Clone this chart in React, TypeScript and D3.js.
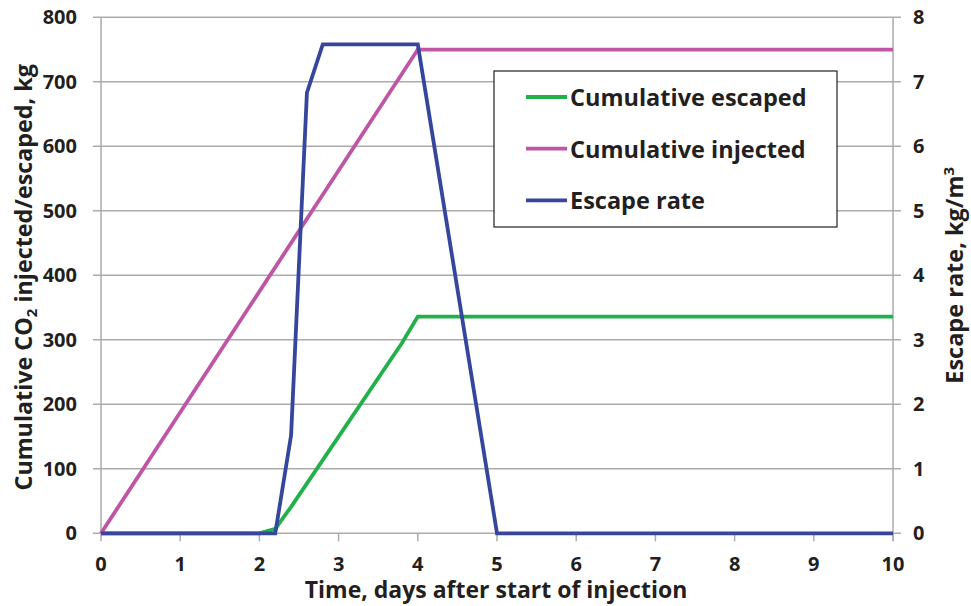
import React, { useEffect, useRef } from 'react';
import * as d3 from 'd3';

// time in days after start of injection
const injectedDays = [0, 4, 10];
const injectedKg = [0, 750, 750];

const escapedDays = [0, 2, 2.2, 2.4, 3.8, 4, 10];
const escapedKg = [0, 0, 7, 41, 295, 336, 336];

const rateDays = [0, 2.2, 2.4, 2.6, 2.8, 4, 5, 10];
const rateValues = [0, 0, 1.52, 6.83, 7.58, 7.58, 0, 0];

const xTicks = [0, 1, 2, 3, 4, 5, 6, 7, 8, 9, 10];
const leftTicks = [0, 100, 200, 300, 400, 500, 600, 700, 800];
const rightTicks = [0, 1, 2, 3, 4, 5, 6, 7, 8];

const legendItems = [
  { label: 'Cumulative escaped', color: '#22b04b' },
  { label: 'Cumulative injected', color: '#bf56a5' },
  { label: 'Escape rate', color: '#35469c' },
];

const FONT = '"Open Sans", Lato, sans-serif';
const TEXT = '#231f20';
const GRID = '#ababab';

const App: React.FC = () => {
  const svgRef = useRef<SVGSVGElement>(null);
  const width = 971;
  const height = 606;

  useEffect(() => {
    if (!svgRef.current) return;
    const svg = d3.select(svgRef.current);
    svg.selectAll('*').remove();

    const margin = { top: 17.3, right: 78, bottom: 72.7, left: 101 };
    const innerWidth = width - margin.left - margin.right;
    const innerHeight = height - margin.top - margin.bottom;

    const x = d3.scaleLinear().domain([0, 10]).range([0, innerWidth]);
    const yLeft = d3.scaleLinear().domain([0, 800]).range([innerHeight, 0]);
    const yRight = d3.scaleLinear().domain([0, 8]).range([innerHeight, 0]);

    const g = svg
      .append('g')
      .attr('transform', `translate(${margin.left},${margin.top})`);

    // gridlines
    g.append('g')
      .selectAll('line')
      .data(leftTicks)
      .enter()
      .append('line')
      .attr('x1', -8)
      .attr('x2', innerWidth + 8)
      .attr('y1', (d) => yLeft(d))
      .attr('y2', (d) => yLeft(d))
      .attr('stroke', GRID)
      .attr('stroke-width', 1.5);

    // axis lines
    g.append('line')
      .attr('x1', 0)
      .attr('x2', 0)
      .attr('y1', 0)
      .attr('y2', innerHeight)
      .attr('stroke', GRID)
      .attr('stroke-width', 1.5);
    g.append('line')
      .attr('x1', innerWidth)
      .attr('x2', innerWidth)
      .attr('y1', 0)
      .attr('y2', innerHeight + 8)
      .attr('stroke', GRID)
      .attr('stroke-width', 1.5);

    // bottom ticks
    g.append('g')
      .selectAll('line')
      .data(xTicks)
      .enter()
      .append('line')
      .attr('x1', (d) => x(d))
      .attr('x2', (d) => x(d))
      .attr('y1', innerHeight)
      .attr('y2', innerHeight + 8)
      .attr('stroke', GRID)
      .attr('stroke-width', 1.5);

    const tickStyle = (sel: d3.Selection<SVGTextElement, number, SVGGElement, unknown>) =>
      sel
        .style('font-family', FONT)
        .style('font-size', '20px')
        .style('font-weight', '700')
        .style('fill', TEXT)
        .text((d) => d);

    // tick labels
    g.append('g')
      .selectAll('text')
      .data(xTicks)
      .enter()
      .append('text')
      .attr('x', (d) => x(d))
      .attr('y', innerHeight + 38)
      .attr('text-anchor', 'middle')
      .call(tickStyle);

    g.append('g')
      .selectAll('text')
      .data(leftTicks)
      .enter()
      .append('text')
      .attr('x', -24)
      .attr('y', (d) => yLeft(d) + 7)
      .attr('text-anchor', 'end')
      .call(tickStyle);

    g.append('g')
      .selectAll('text')
      .data(rightTicks)
      .enter()
      .append('text')
      .attr('x', innerWidth + 20)
      .attr('y', (d) => yRight(d) + 7)
      .attr('text-anchor', 'start')
      .call(tickStyle);

    // series
    const leftLine = d3
      .line<[number, number]>()
      .x((d) => x(d[0]))
      .y((d) => yLeft(d[1]));
    const rightLine = d3
      .line<[number, number]>()
      .x((d) => x(d[0]))
      .y((d) => yRight(d[1]));

    const series = [
      { pts: d3.zip(injectedDays, injectedKg), line: leftLine, color: legendItems[1].color },
      { pts: d3.zip(escapedDays, escapedKg), line: leftLine, color: legendItems[0].color },
      { pts: d3.zip(rateDays, rateValues), line: rightLine, color: legendItems[2].color },
    ];

    series.forEach((s) => {
      g.append('path')
        .datum(s.pts as [number, number][])
        .attr('d', s.line)
        .attr('fill', 'none')
        .attr('stroke', s.color)
        .attr('stroke-width', 3.8)
        .attr('stroke-linejoin', 'miter');
    });

    // axis titles
    svg
      .append('text')
      .attr('x', 496)
      .attr('y', 598)
      .attr('text-anchor', 'middle')
      .style('font-family', FONT)
      .style('font-size', '23px')
      .style('font-weight', '700')
      .style('fill', TEXT)
      .text('Time, days after start of injection');

    const leftTitle = svg
      .append('text')
      .attr('transform', `translate(32,${margin.top + innerHeight / 2 + 2}) rotate(-90)`)
      .attr('text-anchor', 'middle')
      .style('font-family', FONT)
      .style('font-size', '23.3px')
      .style('font-weight', '700')
      .style('fill', TEXT);
    leftTitle.append('tspan').text('Cumulative CO');
    leftTitle.append('tspan').attr('dy', 5).style('font-size', '15px').text('2');
    leftTitle.append('tspan').attr('dy', -5).text(' injected/escaped, kg');

    const rightTitle = svg
      .append('text')
      .attr('transform', `translate(963,${margin.top + innerHeight / 2}) rotate(-90)`)
      .attr('text-anchor', 'middle')
      .style('font-family', FONT)
      .style('font-size', '23.5px')
      .style('font-weight', '700')
      .style('fill', TEXT);
    rightTitle.append('tspan').text('Escape rate, kg/m');
    rightTitle.append('tspan').attr('dy', -9).style('font-size', '15px').text('3');

    // legend
    const legend = svg.append('g').attr('transform', 'translate(494,71)');
    legend
      .append('rect')
      .attr('width', 343)
      .attr('height', 156)
      .attr('fill', '#fff')
      .attr('stroke', TEXT)
      .attr('stroke-width', 1.2);

    const rows = legend
      .selectAll('.legend-item')
      .data(legendItems)
      .enter()
      .append('g')
      .attr('class', 'legend-item')
      .attr('transform', (_, i) => `translate(0,${26 + i * 51.7})`);

    rows
      .append('line')
      .attr('x1', 32)
      .attr('x2', 73)
      .attr('stroke', (d) => d.color)
      .attr('stroke-width', 3.8);

    rows
      .append('text')
      .attr('x', 76)
      .attr('y', 9)
      .style('font-family', FONT)
      .style('font-size', '23.5px')
      .style('font-weight', '700')
      .style('fill', TEXT)
      .text((d) => d.label);
  }, []);

  return (
    <svg
      ref={svgRef}
      width={width}
      height={height}
      style={{ position: 'absolute', left: 0, top: 0, background: '#fff' }}
    />
  );
};

export default App;
